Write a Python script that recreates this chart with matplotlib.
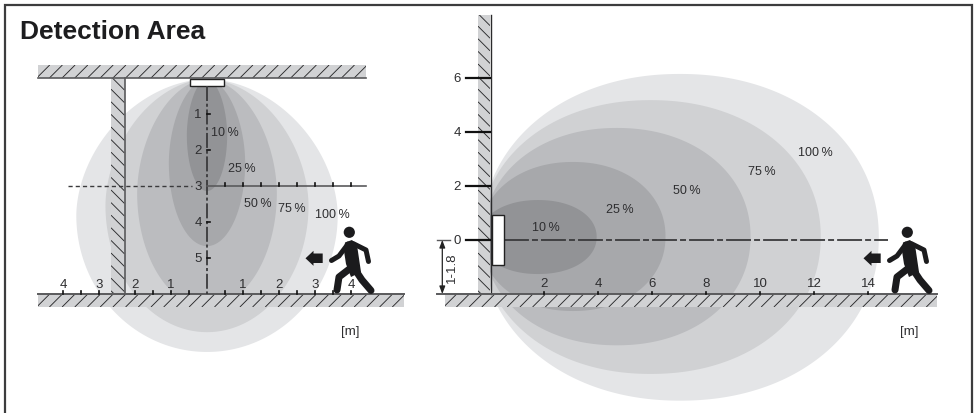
import numpy as np
import matplotlib
matplotlib.use("Agg")
import matplotlib.pyplot as plt
from matplotlib.patches import Polygon, Rectangle, Circle
from matplotlib.collections import LineCollection

plt.rcParams['font.family'] = ['Liberation Sans', 'DejaVu Sans']

W, H = 976, 414
TITLE = "Detection Area"
LEVELS = ["100 %", "75 %", "50 %", "25 %", "10 %"]
SHADES = ["#e4e5e7", "#d0d1d3", "#bbbcbf", "#a7a8ab", "#929396"]

# ceiling-mounted view, metres from sensor axis / ceiling
top_half_width = [3.63, 2.82, 1.94, 1.06, 0.56]
top_depth = [7.61, 7.06, 6.36, 4.67, 3.14]
top_floor_labels = [-4, -3, -2, -1, 1, 2, 3, 4]
top_depth_labels = [1, 2, 3, 4, 5]
top_pct_pos = [(3.47, 3.78), (2.36, 3.61), (1.41, 3.48), (0.97, 2.5), (0.5, 1.5)]

# wall-mounted view, metres from wall / sensor axis
side_reach = [14.4, 12.25, 9.65, 6.5, 3.95]
side_peak_x = [7.04, 5.95, 4.7, 3.07, 1.78]
side_up = [6.15, 5.18, 4.15, 2.89, 1.48]
side_down = [5.95, 4.96, 3.9, 2.63, 1.26]
side_floor_labels = [2, 4, 6, 8, 10, 12, 14]
side_height_labels = [0, 2, 4, 6]
side_pct_pos = [(12.05, 3.27), (10.05, 2.57), (7.28, 1.86), (4.8, 1.16), (2.08, 0.48)]

fig = plt.figure(figsize=(W / 100, H / 100), dpi=100, facecolor="white")


def full_axes(xlim, ylim, z):
    a = fig.add_axes([0, 0, 1, 1], zorder=z)
    a.set_xlim(*xlim)
    a.set_ylim(*ylim)
    a.axis("off")
    a.patch.set_alpha(0)
    return a


# pixel axes for the drawing furniture; metre axes for the data
px = full_axes((0, W), (H, 0), 2)
TX, TY, TS = 207, 79, 36
SX, SY, SS = 490, 241, 27
top = full_axes(((0 - TX) / TS, (W - TX) / TS), ((H - TY) / TS, (0 - TY) / TS), 3)
side = full_axes(((0 - SX) / SS, (W - SX) / SS), ((SY - H) / SS, SY / SS), 1)
topbg = full_axes(((0 - TX) / TS, (W - TX) / TS), ((H - TY) / TS, (0 - TY) / TS), 1)

DARK = "#3a3a3c"
BAND = "#d1d2d4"
EDGE = "#5a5a5c"


def oval(cx, cy, a, b, n=2.0, n_top=None):
    t = np.linspace(0, 2 * np.pi, 600)
    c, s = np.cos(t), np.sin(t)
    nn = np.where(s < 0, n_top if n_top else n, n)
    return np.c_[cx + a * np.sign(c) * np.abs(c) ** (2 / nn), cy + b * np.sign(s) * np.abs(s) ** (2 / nn)]


for hw, d, col in zip(top_half_width, top_depth, SHADES):
    topbg.add_patch(Polygon(oval(0, (d + 0.03) / 2, hw, (d - 0.03) / 2, 2.0, 1.85), fc=col, ec="none"))
for r, pk, u, dn, col in zip(side_reach, side_peak_x, side_up, side_down, SHADES):
    side.add_patch(Polygon(oval(pk, (u - dn) / 2, r - pk, (u + dn) / 2, 2.1), fc=col, ec="none"))


def band(x0, y0, x1, y1, step, back=False):
    rect = Rectangle((x0, y0), x1 - x0, y1 - y0, fc=BAND, ec="none", zorder=2)
    px.add_patch(rect)
    segs = []
    if back:
        w = x1 - x0
        for y in np.arange(y0 - 14, y1 + 14, step):
            segs.append([(x0, y), (x1, y + w)])
    else:
        h = y1 - y0
        for x in np.arange(x0 - 14, x1 + 14, step):
            segs.append([(x, y1), (x + h, y0)])
    lc = LineCollection(segs, colors="#2a2a2c", linewidths=0.65, zorder=3)
    px.add_collection(lc)
    lc.set_clip_path(rect)


# structure
band(38, 66, 366, 79, 12.7)
band(111, 79, 124.5, 295, 12.6, back=True)
band(38, 295, 404, 308, 12.7)
band(478, 16, 490, 295, 12.6, back=True)
band(445, 295, 937, 308, 12.7)
px.plot([38, 366], [79, 79], color=EDGE, lw=1.2, zorder=4)
px.plot([124.5, 124.5], [79, 295], color=EDGE, lw=1.2, zorder=4)
px.plot([38, 404], [295, 295], color=EDGE, lw=1.4, zorder=4)
px.plot([490.5, 490.5], [16, 295], color="#2a2a2c", lw=1.0, zorder=4)
px.plot([437, 937], [295, 295], color=EDGE, lw=1.4, zorder=4)

# frame
px.plot([5, 5, 971.5, 971.5], [H, 6, 6, H], color="#3c3c3e", lw=1.6, solid_joinstyle="miter")

px.text(20, 39, TITLE, fontsize=19, fontweight="bold", color="#1d1d1f", ha="left", va="baseline")

FS = 9
AXFS = 9.5
TXT = "#2e2e30"

# top view axes
top.plot([0, 0], [0.22, 6], color=DARK, lw=1.3, dashes=(8.3, 1.5, 1.7, 1.5), zorder=5)
top.plot([0, 4.42], [3, 3], color=EDGE, lw=1.2, zorder=5)
top.plot([-3.86, -0.42], [3, 3], color=DARK, lw=1.0, dashes=(3, 2.2), zorder=5)
for m in np.arange(0.5, 4.01, 0.5):
    top.plot([m, m], [3, 2.93], color="#111", lw=1.2, zorder=5)
for m in top_depth_labels:
    if m != 3:
        top.plot([0, 0.08], [m, m], color="#111", lw=1.2, zorder=5)
    top.text(-0.25, m, str(m), fontsize=AXFS, color=TXT, ha="center", va="center", zorder=6)
for m in np.arange(-4, 4.01, 0.5):
    if m == 0 or m == -2.5:
        continue
    top.plot([m, m], [6, 5.93], color="#111", lw=1.2, zorder=5)
for m in top_floor_labels:
    top.text(m, 5.72, str(abs(m)), fontsize=AXFS, color=TXT, ha="center", va="center", zorder=6)
for lab, (x, y) in zip(LEVELS, top_pct_pos):
    top.text(x, y, lab.replace(" ", "\u2009"), fontsize=FS, color=TXT, ha="center", va="center", zorder=6)
top.text(3.99, 7.02, "[m]", fontsize=9.5, color=TXT, ha="center", va="center", zorder=6)

# side view axes
px.plot([504, 887.5], [241, 241], color=DARK, lw=1.3, dashes=(13.8, 1.7, 3.3, 1.7), zorder=5)
for m in side_height_labels:
    px.plot([466, 490], [SY - m * SS] * 2, color="#111", lw=1.6, zorder=5)
    px.text(457, SY - m * SS, str(m), fontsize=AXFS, color=TXT, ha="center", va="center", zorder=6)
for m in side_floor_labels:
    px.plot([SX + m * SS] * 2, [295, 292.5], color="#111", lw=1.2, zorder=5)
    px.text(SX + m * SS, 284, str(m), fontsize=AXFS, color=TXT, ha="center", va="center", zorder=6)
for lab, (x, y) in zip(LEVELS, side_pct_pos):
    px.text(SX + x * SS, SY - y * SS, lab.replace(" ", "\u2009"), fontsize=FS, color=TXT, ha="center", va="center", zorder=6)
px.text(909, 331.7, "[m]", fontsize=9.5, color=TXT, ha="center", va="center", zorder=6)

# height dimension
px.plot([437, 450], [241, 241], color=EDGE, lw=1.0, zorder=5)
px.annotate("", xy=(442.3, 241), xytext=(442.3, 295),
            arrowprops=dict(arrowstyle="<|-|>,head_length=0.45,head_width=0.17", color="#222", lw=0.9, shrinkA=0, shrinkB=0), zorder=6)
px.text(451.5, 268, "1-1.8", rotation=90, fontsize=9.5, color=TXT, ha="center", va="center", zorder=6)

# sensors
px.add_patch(Rectangle((189.5, 80), 34, 7, fc="white", ec="#222", lw=1.0, zorder=7))
px.add_patch(Rectangle((492.3, 215.7), 11.7, 50.3, fc="white", ec="#222", lw=1.0, zorder=7))

# walking figure
INK = "#1b1b1d"


def person(dx):
    off = lambda pts: ([p[0] + dx for p in pts], [p[1] for p in pts])
    px.add_patch(Circle((907.3 + dx, 233.3), 5.6, fc=INK, ec="none", zorder=7))
    px.add_patch(Polygon([(p[0] + dx, p[1]) for p in
                          [(903, 243.5), (910, 241), (915, 246), (919, 273), (909, 278), (904, 265), (902, 252)]],
                         fc=INK, ec="none", zorder=7))
    for pts, w in [([(906, 245), (897, 257), (889.5, 261.5)], 5),
                   ([(911, 244.5), (924, 251), (926.5, 262.5)], 5),
                   ([(910, 268), (897, 278), (895, 291)], 7),
                   ([(914, 272), (920, 281), (929, 291.5)], 7)]:
        x, y = off(pts)
        px.plot(x, y, color=INK, lw=w * 0.72, solid_capstyle="round", solid_joinstyle="round", zorder=7)
    px.add_patch(Polygon([(p[0] + dx, p[1]) for p in
                          [(863.5, 259.3), (871.5, 251.8), (871.5, 254.5), (880.7, 254.5), (880.7, 264), (871.5, 264), (871.5, 266.8)]],
                         fc=INK, ec="none", zorder=7))


person(0)
person(-558)

fig.savefig("out.png", dpi=100)
